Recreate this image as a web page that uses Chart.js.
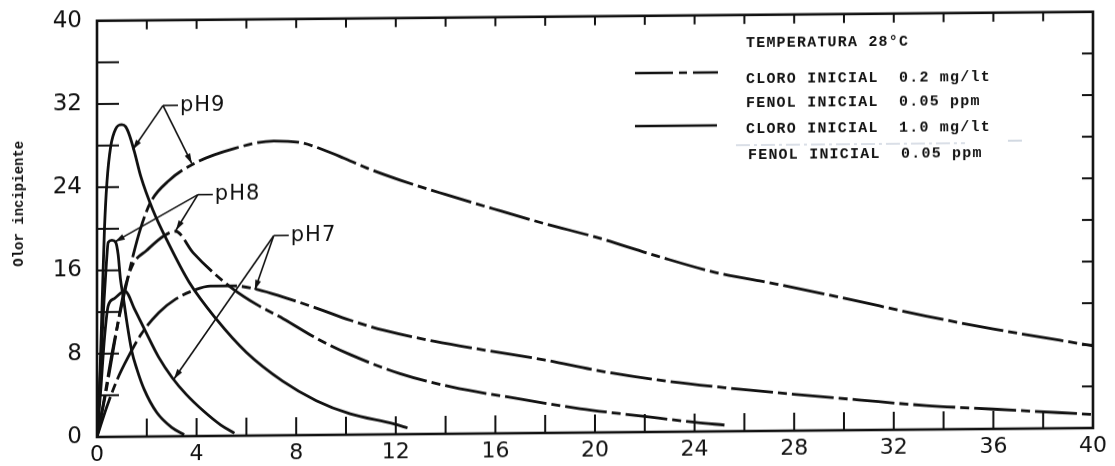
<!DOCTYPE html>
<html>
<head>
<meta charset="utf-8">
<script src="https://cdn.jsdelivr.net/npm/chart.js@4.4.1/dist/chart.umd.min.js"></script>
<style>
  html, body { margin: 0; padding: 0; background: #ffffff; overflow: hidden; }
  #wrap { width: 1115px; height: 466px; }
  /* the scanned original is slightly skewed: right side sits ~9px higher */
  #c { transform: skewY(-0.518deg); transform-origin: 97px 0px; }
</style>
</head>
<body>
<div id="wrap"><canvas id="c" width="1115" height="466"></canvas></div>
<script>
// ---- tick labels ----
const xTickLabels = [0, 4, 8, 12, 16, 20, 24, 28, 32, 36, 40];
const yTickLabels = [0, 8, 16, 24, 32, 40];

// ---- Cloro inicial 0.2 mg/lt (dash curves) ----
const ph9LowX = [0, 0.3, 0.6, 0.9, 1.15, 1.45, 1.75, 2.15, 2.9, 3.9, 5.5, 7.1, 8.2, 9.2, 9.9, 10.85, 12.2, 14.0, 15.9, 18.0, 20.0, 22.5, 24.8, 27.3, 30.0, 33.3, 36.0, 40.0];
const ph9LowY = [0, 3.8, 8.0, 11.6, 14.3, 17.4, 20.0, 22.5, 24.6, 26.2, 27.6, 28.3, 28.1, 27.3, 26.6, 25.6, 24.4, 23.0, 21.6, 20.1, 18.8, 16.9, 15.3, 14.1, 12.7, 10.9, 9.6, 7.9];

const ph8LowX = [0, 0.35, 0.7, 1.08, 1.43, 2.0, 2.7, 3.15, 3.87, 4.67, 5.47, 6.41, 7.48, 8.81, 10.17, 12.2, 14.24, 16.95, 19.4, 22.0, 24.0, 25.2];
const ph8LowY = [0, 4.2, 9.0, 13.9, 16.5, 17.9, 19.3, 19.7, 17.6, 15.7, 14.1, 12.6, 11.2, 9.3, 7.7, 5.8, 4.5, 3.3, 2.3, 1.5, 0.9, 0.6];

const ph7LowX = [0, 0.41, 0.83, 1.24, 1.79, 2.48, 3.17, 3.87, 4.55, 5.5, 6.5, 7.46, 8.81, 10.17, 11.53, 13.56, 15.6, 18.0, 20.0, 22.5, 25.2, 28.0, 30.6, 33.3, 36.0, 40.0];
const ph7LowY = [0, 3.0, 5.6, 7.6, 9.9, 11.9, 13.2, 14.0, 14.4, 14.4, 14.0, 13.3, 12.2, 11.0, 10.0, 8.9, 8.0, 7.0, 6.0, 5.0, 4.2, 3.5, 2.9, 2.3, 1.9, 1.3];

// ---- Cloro inicial 1.0 mg/lt (solid curves) ----
const ph9HighX = [0, 0.12, 0.22, 0.3, 0.4, 0.55, 0.75, 1.0, 1.15, 1.3, 1.5, 1.76, 2.24, 2.86, 3.7, 4.8, 6.0, 7.46, 8.81, 10.17, 11.93, 12.47];
const ph9HighY = [0, 6, 14, 20, 24.5, 27.9, 29.6, 30.0, 29.8, 29.0, 27.4, 25.0, 21.8, 18.6, 14.8, 11.2, 8.0, 5.2, 3.3, 2.0, 1.0, 0.6];

const ph8HighX = [0, 0.15, 0.28, 0.38, 0.45, 0.6, 0.75, 0.85, 0.94, 1.05, 1.2, 1.4, 1.6, 1.9, 2.4, 3.0, 3.5];
const ph8HighY = [0, 7, 13, 16.8, 18.7, 18.9, 18.7, 17.5, 15.2, 13.5, 11.0, 8.2, 6.5, 4.5, 2.3, 0.85, 0.15];

const ph7HighX = [0, 0.15, 0.3, 0.45, 0.7, 1.0, 1.12, 1.52, 1.93, 2.48, 3.03, 3.59, 4.28, 4.97, 5.52];
const ph7HighY = [0, 4.5, 9.5, 12.6, 13.3, 13.9, 14.0, 12.2, 10.2, 7.6, 5.6, 4.0, 2.4, 1.05, 0.25];

// ---- pH annotations (data units) ----
const pHLabels = ['pH9', 'pH8', 'pH7'];
const pHJunctions = [[2.65, 31.8], [4.05, 23.2], [7.1, 19.2]];
const pHTips = [
  [[1.44, 27.6], [3.81, 26.2]],
  [[0.72, 18.75], [3.17, 19.8]],
  [[6.34, 14.0], [3.09, 5.5]]
];

// ---- legend text ----
const legendTitle = 'TEMPERATURA 28°C';
const legendLines = ['CLORO INICIAL  0.2 mg/lt', 'FENOL INICIAL  0.05 ppm', 'CLORO INICIAL  1.0 mg/lt', 'FENOL INICIAL  0.05 ppm'];
const yTitle = 'Olor incipiente';

const DASH = [42, 5, 9, 5];
function pts(xs, ys) { return xs.map((x, i) => ({x: x, y: ys[i]})); }
function ds(xs, ys, dashed) {
  return {
    data: pts(xs, ys), showLine: true, borderColor: '#111', borderWidth: 2.8,
    pointRadius: 0, cubicInterpolationMode: 'monotone', fill: false,
    borderDash: dashed ? DASH : [], borderCapStyle: 'butt', borderJoinStyle: 'round'
  };
}

const framePlugin = {
  id: 'frame',
  afterDraw(chart) {
    const {ctx, chartArea: a, scales: {x, y}} = chart;
    ctx.save();
    ctx.strokeStyle = '#111';
    ctx.lineWidth = 2.6;
    ctx.strokeRect(a.left, a.top, a.right - a.left, a.bottom - a.top);
    ctx.lineWidth = 2;
    for (let v = 2; v < 40; v += 2) {
      const px = x.getPixelForValue(v);
      ctx.beginPath(); ctx.moveTo(px, a.bottom); ctx.lineTo(px, a.bottom - 18); ctx.stroke();
      ctx.beginPath(); ctx.moveTo(px, a.top); ctx.lineTo(px, a.top + 9); ctx.stroke();
    }
    for (let v = 4; v < 40; v += 4) {
      const py = y.getPixelForValue(v);
      ctx.beginPath(); ctx.moveTo(a.left, py); ctx.lineTo(a.left + 22, py); ctx.stroke();
      ctx.beginPath(); ctx.moveTo(a.right, py); ctx.lineTo(a.right - 11, py); ctx.stroke();
    }

    // pH annotations
    ctx.lineWidth = 1.6;
    ctx.fillStyle = '#111';
    pHLabels.forEach((lab, i) => {
      const jx = x.getPixelForValue(pHJunctions[i][0]);
      const jy = y.getPixelForValue(pHJunctions[i][1]);
      ctx.beginPath(); ctx.moveTo(jx, jy); ctx.lineTo(jx + 15, jy); ctx.stroke();
      pHTips[i].forEach(t => {
        const tx = x.getPixelForValue(t[0]);
        const ty = y.getPixelForValue(t[1]);
        ctx.beginPath(); ctx.moveTo(jx, jy); ctx.lineTo(tx, ty); ctx.stroke();
        const ang = Math.atan2(ty - jy, tx - jx);
        const L = 10, W = 3;
        const bx = tx - Math.cos(ang) * L, by = ty - Math.sin(ang) * L;
        ctx.beginPath();
        ctx.moveTo(tx, ty);
        ctx.lineTo(bx + Math.sin(ang) * W, by - Math.cos(ang) * W);
        ctx.lineTo(bx - Math.sin(ang) * W, by + Math.cos(ang) * W);
        ctx.closePath(); ctx.fill();
      });
      ctx.font = '21px "DejaVu Sans"';
      ctx.textBaseline = 'middle';
      ctx.textAlign = 'left';
      ctx.letterSpacing = '1px';
      ctx.fillText(lab, jx + 17, jy);
      ctx.letterSpacing = '0px';
    });

    // legend block (positions in the un-skewed frame)
    ctx.font = 'bold 15px "Liberation Mono"';
    ctx.letterSpacing = '1.2px';
    ctx.textBaseline = 'middle';
    ctx.fillStyle = '#111';
    const lx = 746;
    ctx.fillText(legendTitle, lx, 49);
    const rows = [85, 109, 135, 161];
    legendLines.forEach((t, i) => ctx.fillText(t, lx + (i === 3 ? 2 : 0), rows[i]));
    ctx.letterSpacing = '0px';
    ctx.lineWidth = 2.6;
    ctx.strokeStyle = '#111';
    ctx.setLineDash([38, 6, 8, 6]);
    ctx.beginPath(); ctx.moveTo(635, 78); ctx.lineTo(718, 78); ctx.stroke();
    ctx.setLineDash([]);
    ctx.beginPath(); ctx.moveTo(635, 131); ctx.lineTo(717, 131); ctx.stroke();
    // faint scan artefact line
    ctx.strokeStyle = 'rgba(120,140,170,0.55)';
    ctx.lineWidth = 1.2;
    ctx.setLineDash([14, 4, 3, 4]);
    ctx.beginPath(); ctx.moveTo(736, 151); ctx.lineTo(965, 151); ctx.stroke();
    ctx.beginPath(); ctx.moveTo(1008, 149); ctx.lineTo(1022, 149); ctx.stroke();
    ctx.setLineDash([]);

    // y title
    ctx.save();
    ctx.translate(19, 203);
    ctx.rotate(-Math.PI / 2);
    ctx.font = 'bold 14px "Liberation Mono"';
    ctx.textAlign = 'center';
    ctx.textBaseline = 'middle';
    ctx.fillStyle = '#111';
    ctx.fillText(yTitle, 0, 0);
    ctx.restore();
    ctx.restore();
  }
};

new Chart(document.getElementById('c'), {
  type: 'scatter',
  data: {
    datasets: [
      ds(ph9LowX, ph9LowY, true),
      ds(ph8LowX, ph8LowY, true),
      ds(ph7LowX, ph7LowY, true),
      ds(ph9HighX, ph9HighY, false),
      ds(ph8HighX, ph8HighY, false),
      ds(ph7HighX, ph7HighY, false)
    ]
  },
  options: {
    responsive: false,
    animation: false,
    layout: { padding: { left: 0, top: 19, right: 22, bottom: 0 } },
    plugins: { legend: { display: false }, tooltip: { enabled: false } },
    scales: {
      x: {
        type: 'linear', min: 0, max: 40,
        afterFit(s) { s.height = 29; },
        afterBuildTicks(s) { s.ticks = xTickLabels.map(v => ({value: v})); },
        grid: { display: false }, border: { display: false },
        ticks: { autoSkip: false, maxRotation: 0, padding: -1, color: '#111',
                 font: { family: 'DejaVu Sans', size: 22, lineHeight: 1.0 } }
      },
      y: {
        type: 'linear', min: 0, max: 40,
        afterFit(s) { s.width = 97; },
        afterBuildTicks(s) { s.ticks = yTickLabels.map(v => ({value: v})); },
        grid: { display: false }, border: { display: false },
        ticks: { autoSkip: false, padding: 7, color: '#111',
                 font: { family: 'DejaVu Sans', size: 23 } }
      }
    }
  },
  plugins: [framePlugin]
});
</script>
</body>
</html>
